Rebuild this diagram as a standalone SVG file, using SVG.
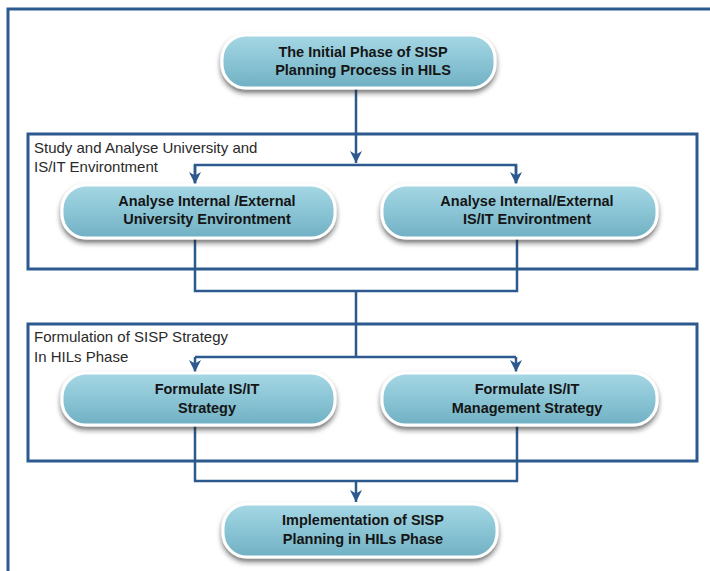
<svg xmlns="http://www.w3.org/2000/svg" width="710" height="571" viewBox="0 0 710 571">
<defs>
<linearGradient id="nodeFill" x1="0" y1="0" x2="0" y2="1">
<stop offset="0" stop-color="#a6d7e4"/>
<stop offset="0.45" stop-color="#8dc7d7"/>
<stop offset="1" stop-color="#70b0c3"/>
</linearGradient>
<filter id="shadow" x="-10%" y="-30%" width="120%" height="170%">
<feDropShadow dx="0" dy="3.5" stdDeviation="2.5" flood-color="#222" flood-opacity="0.6"/>
</filter>
<marker id="arr" viewBox="0 0 10 10" refX="10" refY="5" markerWidth="12" markerHeight="12" markerUnits="userSpaceOnUse" orient="auto">
<path d="M0,0 L10,5 L0,10 L3,5 Z" fill="#2c5a8e"/>
</marker>
</defs>
<style>
.frame{fill:none;stroke:#2c5a8e;stroke-width:3}
.conn{fill:none;stroke:#2c5a8e;stroke-width:2.5}
.node rect{fill:url(#nodeFill);stroke:#ffffff;stroke-width:3;filter:url(#shadow)}
.lbl{font-family:"Liberation Sans",Arial,sans-serif;font-size:14.5px;font-weight:bold;fill:#151515;text-anchor:middle}
.sec{font-family:"Liberation Sans",Arial,sans-serif;font-size:15px;fill:#2a2a2a}
</style>
<rect width="710" height="571" fill="#ffffff"/>
<path class="frame" d="M8,575 V9 H715"/>
<g id="section1">
<rect class="frame" x="28" y="134" width="669" height="135"/>
<text class="sec" x="34" y="153">Study and Analyse University and</text>
<text class="sec" x="34" y="172">IS/IT Environtment</text>
</g>
<g id="section2">
<rect class="frame" x="28" y="324" width="669" height="137"/>
<text class="sec" x="34" y="342">Formulation of SISP Strategy</text>
<text class="sec" x="34" y="362">In HILs Phase</text>
</g>
<g id="connectors">
<path class="conn" d="M356,88 V163" marker-end="url(#arr)"/>
<path class="conn" d="M195,183 V165 H516 V183"/>
<path class="conn" d="M195,165 V184" marker-end="url(#arr)"/>
<path class="conn" d="M516,165 V184" marker-end="url(#arr)"/>
<path class="conn" d="M195,238 V291 H517 V238"/>
<path class="conn" d="M356,291 V357"/>
<path class="conn" d="M195,357 H516"/>
<path class="conn" d="M195,357 V372" marker-end="url(#arr)"/>
<path class="conn" d="M516,357 V372" marker-end="url(#arr)"/>
<path class="conn" d="M195,425 V481 H517 V425"/>
<path class="conn" d="M356,481 V502" marker-end="url(#arr)"/>
</g>
<g id="n1" class="node">
<rect x="222" y="35" width="273" height="53" rx="24"/>
<text class="lbl" x="363" y="57">The Initial Phase of SISP</text>
<text class="lbl" x="363" y="75">Planning Process in HILS</text>
</g>
<g id="n2" class="node">
<rect x="62" y="185" width="273" height="53" rx="24"/>
<text class="lbl" x="207" y="206">Analyse Internal /External</text>
<text class="lbl" x="207" y="224">University Environtment</text>
</g>
<g id="n3" class="node">
<rect x="382" y="185" width="275" height="53" rx="24"/>
<text class="lbl" x="527" y="206">Analyse Internal/External</text>
<text class="lbl" x="527" y="224">IS/IT Environtment</text>
</g>
<g id="n4" class="node">
<rect x="62" y="373" width="273" height="52" rx="24"/>
<text class="lbl" x="207" y="394">Formulate IS/IT</text>
<text class="lbl" x="207" y="413">Strategy</text>
</g>
<g id="n5" class="node">
<rect x="382" y="373" width="275" height="52" rx="24"/>
<text class="lbl" x="527" y="394">Formulate IS/IT</text>
<text class="lbl" x="527" y="413">Management Strategy</text>
</g>
<g id="n6" class="node">
<rect x="223" y="504" width="274" height="53" rx="24"/>
<text class="lbl" x="363" y="525">Implementation of SISP</text>
<text class="lbl" x="363" y="544">Planning in HILs Phase</text>
</g>
</svg>
